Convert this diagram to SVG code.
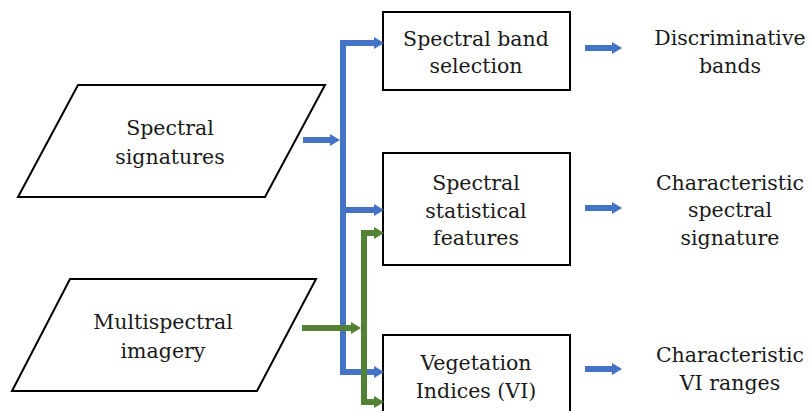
<svg xmlns="http://www.w3.org/2000/svg" width="812" height="411" viewBox="0 0 812 411">
  <style>
    .shape { fill: #ffffff; stroke: #000000; stroke-width: 2; }
    .label { font-family: "DejaVu Serif", "Liberation Serif", serif; font-size: 20.5px; fill: #1a1a1a; text-anchor: middle; }
    .blue { stroke: #4472C4; stroke-width: 6; fill: none; }
    .green { stroke: #548235; stroke-width: 6; fill: none; }
  </style>
  <defs>
    <marker id="headBlue" viewBox="0 0 10 12" refX="5" refY="6" markerWidth="10" markerHeight="12" markerUnits="userSpaceOnUse" orient="auto">
      <path d="M0,0 L10,6 L0,12 z" fill="#4472C4"/>
    </marker>
    <marker id="headGreen" viewBox="0 0 10 12" refX="5" refY="6" markerWidth="10" markerHeight="12" markerUnits="userSpaceOnUse" orient="auto">
      <path d="M0,0 L10,6 L0,12 z" fill="#548235"/>
    </marker>
  </defs>
  <rect width="812" height="411" fill="#ffffff"/>

  <!-- inputs -->
  <g id="spectral-signatures">
    <polygon class="shape" points="78,85 325,85 265,197 18,197"/>
    <text class="label" x="170" y="135">Spectral</text>
    <text class="label" x="170" y="164">signatures</text>
  </g>
  <g id="multispectral-imagery">
    <polygon class="shape" points="70,279 316,279 257,391 12,391"/>
    <text class="label" x="163" y="329">Multispectral</text>
    <text class="label" x="163" y="358">imagery</text>
  </g>

  <!-- processing steps -->
  <g id="band-selection">
    <rect class="shape" x="383" y="12" width="187" height="78"/>
    <text class="label" x="476" y="46">Spectral band</text>
    <text class="label" x="476" y="73">selection</text>
  </g>
  <g id="statistical-features">
    <rect class="shape" x="383" y="153" width="187" height="112"/>
    <text class="label" x="476" y="190">Spectral</text>
    <text class="label" x="476" y="218">statistical</text>
    <text class="label" x="476" y="245">features</text>
  </g>
  <g id="vegetation-indices">
    <rect class="shape" x="383" y="335" width="187" height="90"/>
    <text class="label" x="476" y="370">Vegetation</text>
    <text class="label" x="476" y="398">Indices (VI)</text>
  </g>

  <!-- outputs -->
  <g id="discriminative-bands">
    <text class="label" x="730" y="45">Discriminative</text>
    <text class="label" x="730" y="73">bands</text>
  </g>
  <g id="characteristic-signature">
    <text class="label" x="730" y="190">Characteristic</text>
    <text class="label" x="730" y="217">spectral</text>
    <text class="label" x="730" y="245">signature</text>
  </g>
  <g id="characteristic-vi-ranges">
    <text class="label" x="730" y="362">Characteristic</text>
    <text class="label" x="730" y="390">VI ranges</text>
  </g>

  <g id="connectors">
    <!-- spectral signatures bus -->
    <line class="blue" x1="303" y1="140" x2="335" y2="140" marker-end="url(#headBlue)"/>
    <polyline class="blue" points="343,375 343,43 379,43" marker-end="url(#headBlue)"/>
    <line class="blue" x1="343" y1="210" x2="379" y2="210" marker-end="url(#headBlue)"/>
    <line class="blue" x1="343" y1="372" x2="379" y2="372" marker-end="url(#headBlue)"/>
    <!-- multispectral imagery bus -->
    <line class="green" x1="302" y1="328" x2="356" y2="328" marker-end="url(#headGreen)"/>
    <polyline class="green" points="364,405 364,233 379,233" marker-end="url(#headGreen)"/>
    <line class="green" x1="364" y1="402" x2="379" y2="402" marker-end="url(#headGreen)"/>
    <!-- outputs -->
    <line class="blue" x1="585" y1="48" x2="617" y2="48" marker-end="url(#headBlue)"/>
    <line class="blue" x1="585" y1="208" x2="617" y2="208" marker-end="url(#headBlue)"/>
    <line class="blue" x1="585" y1="369" x2="617" y2="369" marker-end="url(#headBlue)"/>
  </g>
</svg>
